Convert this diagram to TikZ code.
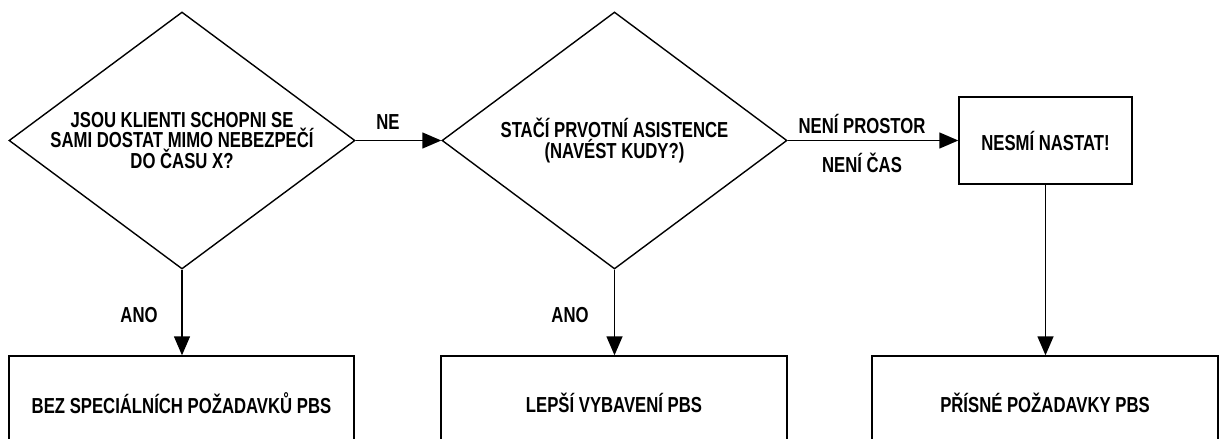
\documentclass[tikz,border=0pt]{standalone}
\usepackage{fontspec}
\setmainfont{Liberation Sans}[FakeStretch=0.77]
\usetikzlibrary{shapes.geometric,arrows.meta}
\tikzset{
  every node/.style={font=\fontsize{21.7}{17.5}\selectfont\bfseries, text=black},
  decision/.style={draw, diamond, line width=1.4pt, inner sep=0pt, aspect=1.35, align=center, minimum width=346pt, minimum height=257pt},
  box/.style={draw, rectangle, line width=1.4pt, inner sep=0pt, align=center},
  conn/.style={line width=1.4pt, -{Triangle[length=19pt,width=16pt]}},
  lbl/.style={inner sep=0pt}
}
\begin{document}
\begin{tikzpicture}[x=1pt,y=-1pt]
\useasboundingbox (0,0) rectangle (1224,439);
\node[decision] (d1) at (182,140.5) {JSOU KLIENTI SCHOPNI SE\\SAMI DOSTAT MIMO NEBEZPEČÍ\\DO ČASU X?};
\node[decision, minimum width=345pt] (d2) at (614.5,140.5) {STAČÍ PRVOTNÍ ASISTENCE\\(NAVÉST KUDY?)};
\node[box, minimum width=173pt, minimum height=87pt] (b3) at (1045.5,140.5) {NESMÍ NASTAT!};
\node[box, minimum width=345pt, minimum height=94pt] (b4) at (181.5,403) {BEZ SPECIÁLNÍCH POŽADAVKŮ PBS};
\node[box, minimum width=346pt, minimum height=94pt] (b5) at (614,403) {LEPŠÍ VYBAVENÍ PBS};
\node[box, minimum width=346pt, minimum height=94pt] (b6) at (1045,403) {PŘÍSNÉ POŽADAVKY PBS};
\draw[conn] (d1.east) -- (d2.west);
\draw[conn] (d2.east) -- (b3.west);
\draw[conn] (d1.south) -- (d1.south |- b4.north);
\draw[conn] (d2.south) -- (d2.south |- b5.north);
\draw[conn] (b3.south) -- (b3.south |- b6.north);
\node[lbl] (lne) at (388,122.5) {NE};
\node[lbl] (lnp) at (862,124) {NENÍ PROSTOR};
\node[lbl] (lnc) at (862,163) {NENÍ ČAS};
\node[lbl] (la1) at (139,315) {ANO};
\node[lbl] (la2) at (570,315) {ANO};
\end{tikzpicture}
\end{document}
